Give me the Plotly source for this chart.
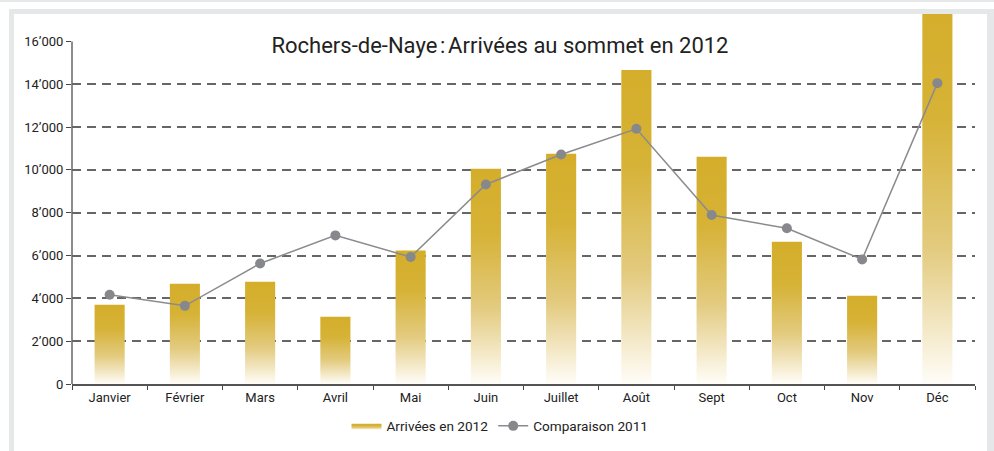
import plotly.graph_objects as go

months = ["Janvier", "Février", "Mars", "Avril", "Mai", "Juin",
          "Juillet", "Août", "Sept", "Oct", "Nov", "Déc"]
arrivees_2012 = [3700, 4680, 4780, 3140, 6230, 10050,
                 10750, 14670, 10610, 6640, 4120, 17800]
comparaison_2011 = [4170, 3650, 5630, 6940, 5930, 9320,
                    10720, 11920, 7890, 7270, 5820, 14050]
y_tick_vals = [0, 2000, 4000, 6000, 8000, 10000, 12000, 14000, 16000]
y_tick_text = ["0", "2\u2019000", "4\u2019000", "6\u2019000", "8\u2019000",
               "10\u2019000", "12\u2019000", "14\u2019000", "16\u2019000"]
grid_vals = [2000, 4000, 6000, 8000, 10000, 12000, 14000]

W, H = 994, 451
L, R, T, B = 72, 19, 14, 67
PW, PH = W - L - R, H - T - B
BAR_W = 0.4
GOLD = "#d4ae2a"
FONT = "Roboto, Arial, sans-serif"


def px_x(px):
    return (px - L) / PW


def px_y(py):
    return (H - B - py) / PH


fig = go.Figure()

xs = list(range(len(months)))
for i, (x, v) in enumerate(zip(xs, arrivees_2012)):
    fig.add_trace(go.Scatter(
        x=[x - BAR_W / 2, x + BAR_W / 2, x + BAR_W / 2, x - BAR_W / 2, x - BAR_W / 2],
        y=[0, 0, v, v, 0],
        mode="lines", line=dict(width=0, color=GOLD),
        fill="toself",
        fillgradient=dict(type="vertical",
                          colorscale=[[0, "#fffdf8"], [0.35, "#e3cb80"],
                                      [0.7, "#d6b236"], [1, GOLD]]),
        name="Arrivées en 2012", legendgroup="a2012",
        showlegend=(i == 0), hoverinfo="skip",
    ))

fig.add_trace(go.Scatter(
    x=xs, y=comparaison_2011, mode="lines+markers",
    name="Comparaison 2011",
    line=dict(color="#8a8b8e", width=1.5),
    marker=dict(color="#87888c", size=10),
))

shapes = [
    dict(type="rect", xref="paper", yref="paper", layer="below",
         x0=px_x(0), x1=px_x(W + 5), y0=px_y(0), y1=px_y(2),
         fillcolor="#e6e7e9", line=dict(width=0)),
    dict(type="rect", xref="paper", yref="paper", layer="below",
         x0=px_x(9), x1=px_x(W + 5), y0=px_y(9), y1=px_y(H + 5),
         fillcolor="#e6e7e9", line=dict(width=0)),
    dict(type="rect", xref="paper", yref="paper", layer="below",
         x0=px_x(14), x1=px_x(987), y0=px_y(14), y1=px_y(H + 5),
         fillcolor="white", line=dict(width=0)),
    dict(type="line", xref="paper", yref="y", layer="above",
         x0=0, x1=0, y0=0, y1=16000, line=dict(color="#666", width=1.5)),
]
fig.update_layout(shapes=shapes)

fig.update_layout(
    width=W, height=H,
    margin=dict(l=L, r=R, t=T, b=B, pad=0, autoexpand=False),
    paper_bgcolor="white", plot_bgcolor="rgba(0,0,0,0)",
    font=dict(family=FONT, size=13, color="#222"),
    title=dict(text="Rochers-de-Naye\u202f:\u202fArrivées au sommet en 2012",
               x=0.503, xanchor="center", y=1 - 45 / H, yanchor="middle",
               font=dict(family=FONT, size=22, color="#222")),
    showlegend=True,
    legend=dict(orientation="h", xref="container", x=500 / W, xanchor="center",
                yref="container", y=1 - 426 / H, yanchor="middle",
                font=dict(size=13.6), bgcolor="rgba(0,0,0,0)", itemwidth=30),
    xaxis=dict(range=[-0.5, 11.5], tickmode="array", tickvals=xs, ticktext=months,
               showgrid=False, zeroline=False, showline=True, linecolor="#555",
               linewidth=2, ticks="", tickfont=dict(size=13, color="#222"),
               automargin=False,
               minor=dict(tickmode="array", tickvals=[k - 0.5 for k in range(13)],
                          ticks="outside", ticklen=4, tickcolor="#444",
                          tickwidth=1, showgrid=False),
               fixedrange=True),
    yaxis=dict(range=[0, PH / ((384.3 - 41.7) / 16000)], tickmode="array",
               tickvals=y_tick_vals, ticktext=y_tick_text,
               showgrid=False, zeroline=False, showline=False,
               ticks="outside", ticklen=5, tickcolor="#444", tickwidth=1,
               tickfont=dict(size=13, color="#222"), automargin=False,
               minor=dict(tickmode="array", tickvals=grid_vals, showgrid=True,
                          gridcolor="#666", gridwidth=1.5, griddash="9px,6px",
                          ticks=""),
               fixedrange=True),
)

fig.write_html("out.html", config={"displayModeBar": False},
               post_script="document.body.style.margin='0';"
                           "document.body.style.overflow='hidden';")
